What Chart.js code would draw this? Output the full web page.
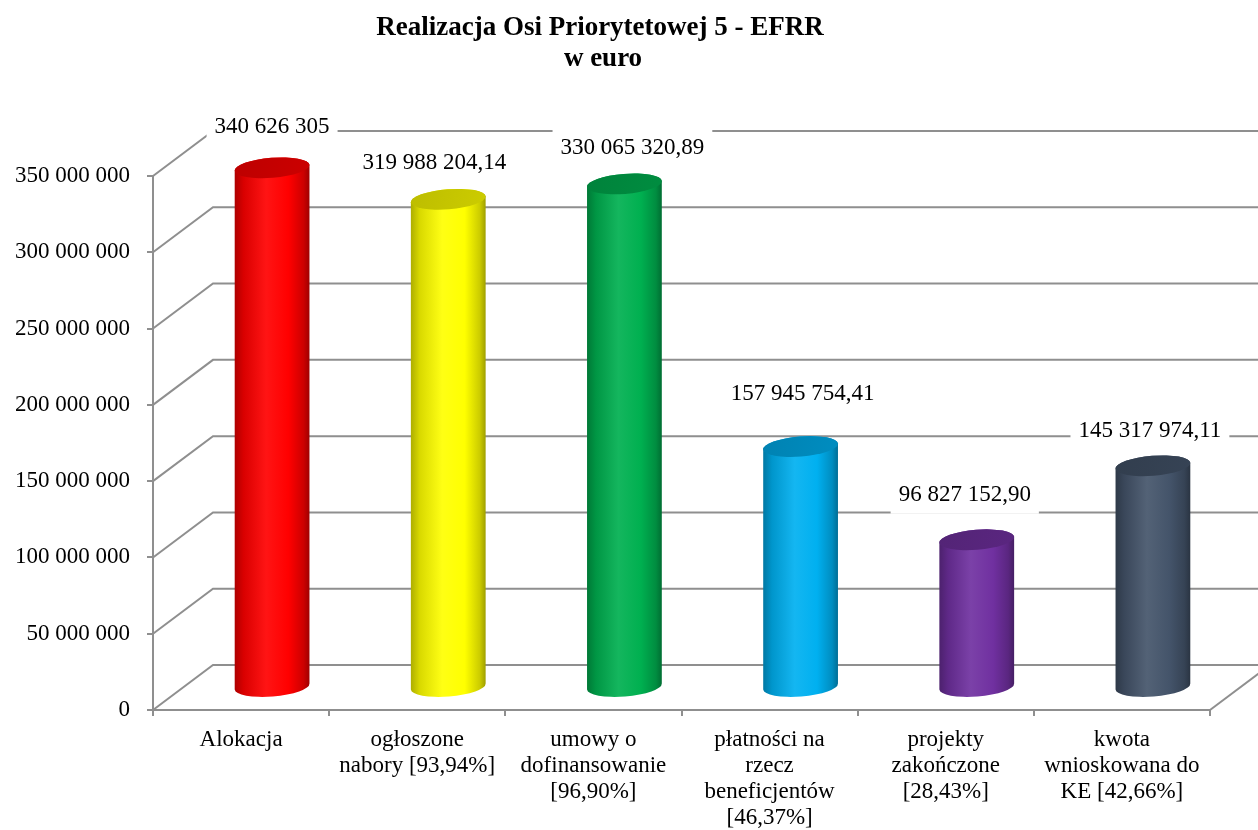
<!DOCTYPE html>
<html>
<head>
<meta charset="utf-8">
<script src="https://cdn.jsdelivr.net/npm/chart.js@4/dist/chart.umd.min.js"></script>
<style>
  html, body { margin: 0; padding: 0; background: #ffffff; }
  #wrap { width: 1258px; height: 830px; }
</style>
</head>
<body>
<div id="wrap"><canvas id="c" width="1258" height="830"></canvas></div>
<script>
// ---------- data ----------
const titleLines = ["Realizacja Osi Priorytetowej 5 - EFRR", "w euro"];
const categories = [
  ["Alokacja"],
  ["ogłoszone", "nabory [93,94%]"],
  ["umowy o", "dofinansowanie", "[96,90%]"],
  ["płatności na", "rzecz", "beneficjentów", "[46,37%]"],
  ["projekty", "zakończone", "[28,43%]"],
  ["kwota", "wnioskowana do", "KE [42,66%]"]
];
const values = [340626305, 319988204.14, 330065320.89, 157945754.41, 96827152.90, 145317974.11];
const valueLabels = ["340 626 305", "319 988 204,14", "330 065 320,89", "157 945 754,41", "96 827 152,90", "145 317 974,11"];
const barColors = ["#ff0000", "#ffff00", "#00b050", "#00b0f0", "#7030a0", "#44546a"];
const yMin = 0, yMax = 350000000, yStep = 50000000;

// ---------- style ----------
const FONT = "'Liberation Serif', 'Times New Roman', serif";
const GRID = "#8f8f8f";
const DEPTH_X = 60, DEPTH_Y = -45;       // back wall offset
const BAR_DX = 31, BAR_DY = -22.5;        // bar depth (middle)
const RX = 37.5, RY = 10, ROT = -0.08;
// label nudges relative to bar top (style only)
const labelNudge = [[0, -31], [-14, -26], [8, -26], [2, -42.5], [-12, -35], [-3, -24.5]];

function hexToRgb(h) {
  const n = parseInt(h.slice(1), 16);
  return [(n >> 16) & 255, (n >> 8) & 255, n & 255];
}
function shade(h, f) {
  const [r, g, b] = hexToRgb(h);
  return `rgb(${Math.round(r * f)},${Math.round(g * f)},${Math.round(b * f)})`;
}
function tint(h, t) {
  const [r, g, b] = hexToRgb(h);
  return `rgb(${Math.round(r + (255 - r) * t)},${Math.round(g + (255 - g) * t)},${Math.round(b + (255 - b) * t)})`;
}
function fmt(v) {
  return String(Math.round(v)).replace(/\B(?=(\d{3})+(?!\d))/g, " ");
}

const wallPlugin = {
  id: "wall3d",
  beforeDatasetsDraw(chart) {
    const ctx = chart.ctx, y = chart.scales.y, x = chart.scales.x;
    const left = chart.chartArea.left, right = chart.chartArea.right;
    ctx.save();
    ctx.strokeStyle = GRID;
    ctx.lineWidth = 2;
    for (let v = yMin; v <= yMax; v += yStep) {
      const py = y.getPixelForValue(v);
      ctx.beginPath();
      ctx.moveTo(left, py);
      ctx.lineTo(left + DEPTH_X, py + DEPTH_Y);
      ctx.lineTo(chart.width + 20, py + DEPTH_Y);
      ctx.stroke();
    }
    // floor right edge
    const p0 = y.getPixelForValue(0);
    ctx.beginPath();
    ctx.moveTo(right, p0);
    ctx.lineTo(right + DEPTH_X, p0 + DEPTH_Y);
    ctx.stroke();
    ctx.restore();
  },
  afterDatasetsDraw(chart) {
    const ctx = chart.ctx;
    const meta = chart.getDatasetMeta(0);
    const c = Math.cos(ROT), s = Math.sin(ROT);
    ctx.save();
    meta.data.forEach((el, i) => {
      const base = barColors[i];
      const cx = el.x + BAR_DX, yt = el.y + BAR_DY, yb = el.base + BAR_DY;
      const g = ctx.createLinearGradient(cx - RX, 0, cx + RX, 0);
      g.addColorStop(0, shade(base, 0.68));
      g.addColorStop(0.12, shade(base, 0.85));
      g.addColorStop(0.42, tint(base, 0.08));
      g.addColorStop(0.72, base);
      g.addColorStop(0.92, shade(base, 0.8));
      g.addColorStop(1, shade(base, 0.62));
      ctx.beginPath();
      ctx.moveTo(cx - RX * c, yt - RX * s);
      ctx.lineTo(cx - RX * c, yb - RX * s);
      ctx.ellipse(cx, yb, RX, RY, ROT, Math.PI, 0, true);
      ctx.lineTo(cx + RX * c, yt + RX * s);
      ctx.ellipse(cx, yt, RX, RY, ROT, 0, Math.PI, true);
      ctx.closePath();
      ctx.fillStyle = g;
      ctx.fill();
      // top face
      const gt = ctx.createLinearGradient(cx - RX, yt - RY, cx + RX, yt + RY);
      gt.addColorStop(0, shade(base, 0.74));
      gt.addColorStop(1, shade(base, 0.8));
      ctx.beginPath();
      ctx.ellipse(cx, yt, RX, RY, ROT, 0, Math.PI * 2);
      ctx.fillStyle = gt;
      ctx.fill();
    });
    // data labels
    ctx.font = "23px " + FONT;
    ctx.textAlign = "center";
    ctx.textBaseline = "middle";
    meta.data.forEach((el, i) => {
      const cx = el.x + BAR_DX, yt = el.y + BAR_DY - RY;
      const lx = cx + labelNudge[i][0], ly = yt + labelNudge[i][1];
      const w = ctx.measureText(valueLabels[i]).width;
      ctx.fillStyle = "#ffffff";
      ctx.fillRect(lx - w / 2 - 8, ly - 19, w + 16, 38);
      ctx.fillStyle = "#000000";
      ctx.fillText(valueLabels[i], lx, ly);
    });
    ctx.restore();
  },
  afterDraw(chart) {
    const ctx = chart.ctx;
    ctx.save();
    ctx.font = "bold 27px " + FONT;
    ctx.fillStyle = "#000000";
    ctx.textAlign = "center";
    ctx.textBaseline = "middle";
    ctx.fillText(titleLines[0], 600, 28);
    ctx.fillText(titleLines[1], 603, 59);
    ctx.restore();
  }
};

new Chart(document.getElementById("c"), {
  type: "bar",
  data: {
    labels: categories,
    datasets: [{
      data: values,
      backgroundColor: "rgba(0,0,0,0)",
      borderWidth: 0
    }]
  },
  options: {
    responsive: false,
    animation: false,
    layout: { padding: { top: 176, right: 48, left: 0, bottom: 0 } },
    plugins: { legend: { display: false }, tooltip: { enabled: false }, title: { display: false } },
    scales: {
      x: {
        afterFit(scale) { scale.height = 120; },
        grid: { display: true, drawOnChartArea: false, drawTicks: true, tickLength: 6, color: GRID, lineWidth: 2, offset: true },
        border: { display: true, color: GRID, width: 2 },
        ticks: {
          autoSkip: false, maxRotation: 0, minRotation: 0, padding: 11,
          color: "#000000",
          font: { family: FONT, size: 23, lineHeight: 1.13 }
        }
      },
      y: {
        min: yMin, max: yMax,
        afterFit(scale) { scale.width = 153; },
        grid: { display: true, drawOnChartArea: false, drawTicks: true, tickLength: 6, color: GRID, lineWidth: 2 },
        border: { display: true, color: GRID, width: 2 },
        ticks: {
          stepSize: yStep, padding: 17,
          color: "#000000",
          font: { family: FONT, size: 23 },
          callback: (v) => fmt(v)
        }
      }
    }
  },
  plugins: [wallPlugin]
});
</script>
</body>
</html>
